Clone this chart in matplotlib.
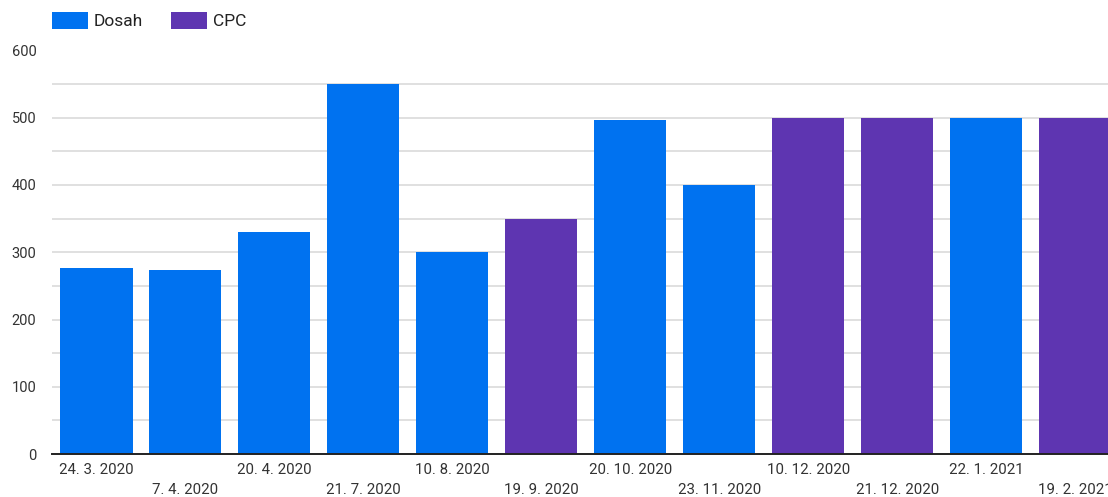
import numpy as np
import matplotlib
matplotlib.use("Agg")
import matplotlib.pyplot as plt
from matplotlib.ticker import MultipleLocator, FixedLocator

plt.rcParams['font.family'] = ['Roboto', 'DejaVu Sans']

# Data
dates = ["24. 3. 2020", "7. 4. 2020", "20. 4. 2020", "21. 7. 2020", "10. 8. 2020",
         "19. 9. 2020", "20. 10. 2020", "23. 11. 2020", "10. 12. 2020",
         "21. 12. 2020", "22. 1. 2021", "19. 2. 2021"]
dosah = [276, 274, 330, 550, 300, np.nan, 497, 400, np.nan, np.nan, 500, np.nan]
cpc = [np.nan, np.nan, np.nan, np.nan, np.nan, 350, np.nan, np.nan, 500, 500, np.nan, 500]

series_names = ["Dosah", "CPC"]
series_colors = ["#0072f0", "#5e35b1"]

W, H = 1108, 497
fig = plt.figure(figsize=(W / 100, H / 100), dpi=100)
ax_left, ax_right, ax_bottom, ax_top = 52, 1108, 454, 50.5
ax = fig.add_axes([ax_left / W, 1 - ax_bottom / H,
                   (ax_right - ax_left) / W, (ax_bottom - ax_top) / H])

x = np.arange(len(dates))
bw = 0.81
b1 = ax.bar(x, dosah, width=bw, color=series_colors[0], label=series_names[0], zorder=3)
b2 = ax.bar(x, cpc, width=bw, color=series_colors[1], label=series_names[1], zorder=3)

ax.set_xlim(-0.5, 11.37)
ax.set_ylim(0, 600)

# gridlines every 50, labels every 100
ax.yaxis.set_major_locator(MultipleLocator(100))
ax.yaxis.set_minor_locator(MultipleLocator(50))
ax.grid(axis='y', which='both', color='#dddddd', linewidth=1.3, zorder=0)
ax.tick_params(axis='y', which='both', length=0, pad=11.3, labelsize=10.5, labelcolor='#333333')

# staggered date labels: even ones on the first row, odd ones on the second
ax.xaxis.set_major_locator(FixedLocator(x[::2]))
ax.xaxis.set_minor_locator(FixedLocator(x[1::2]))
ax.set_xticklabels(dates[::2])
ax.set_xticklabels(dates[1::2], minor=True)
ax.tick_params(axis='x', which='major', length=0, pad=6.5, labelsize=10.8, labelcolor='#333333')
ax.tick_params(axis='x', which='minor', length=0, pad=21, labelsize=10.8, labelcolor='#333333')

for s in ['top', 'right', 'left']:
    ax.spines[s].set_visible(False)
ax.spines['bottom'].set_color('#222222')
ax.spines['bottom'].set_linewidth(1.4)
ax.spines['bottom'].set_zorder(4)

leg = fig.legend(handles=[b1, b2], labels=series_names, loc='upper left',
                 bbox_to_anchor=(52 / W, 1 - 12 / H), ncol=2, frameon=False,
                 fontsize=12.5, handlelength=2.07, handleheight=1.1,
                 handletextpad=0.35, columnspacing=1.6, borderpad=0,
                 borderaxespad=0)
for t in leg.get_texts():
    t.set_color('#222222')

fig.savefig("out.png", dpi=100)
